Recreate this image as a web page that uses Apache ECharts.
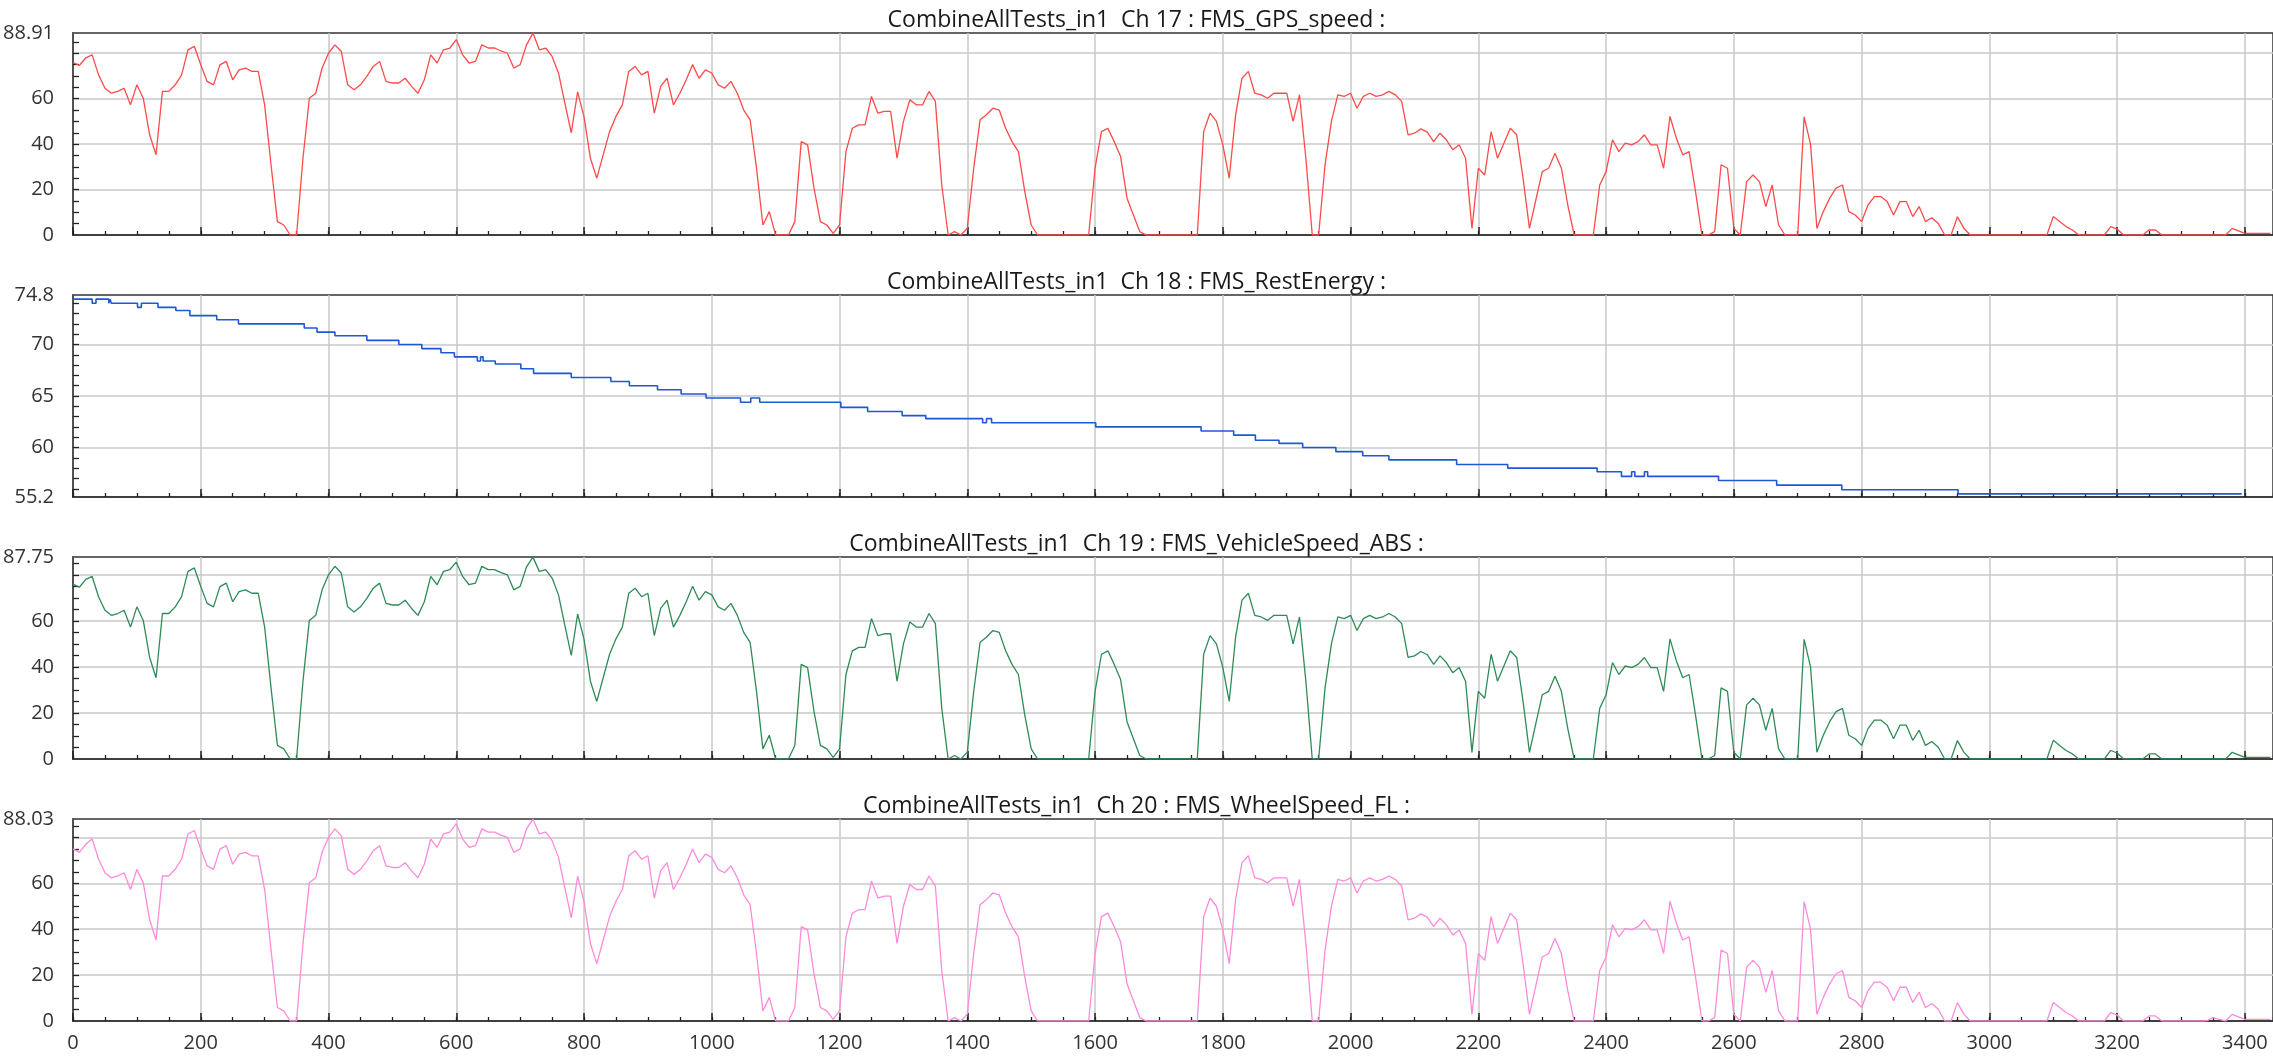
<!DOCTYPE html>
<html>
<head>
<meta charset="utf-8">
<title>CombineAllTests_in1</title>
<script src="https://cdn.jsdelivr.net/npm/echarts@6/dist/echarts.min.js"></script>
<style>
html, body { margin: 0; padding: 0; background: #fff; }
#chart { width: 2273px; height: 1059px; }
</style>
</head>
<body>
<div id="chart"></div>
<script>
const speedStep = 10;

// Ch 17 FMS_GPS_speed
const gpsSpeed = [
  76, 74.6, 78, 79.3, 70.5, 64.6, 62.4, 63.2, 64.6, 57.3,
  66.1, 60.2, 44.1, 35.3, 63.2, 63.2, 66.1, 70.5, 81.5, 83,
  74.9, 67.6, 66.1, 74.9, 76.4, 68.3, 72.7, 73.5, 72, 72,
  57.3, 30.9, 5.9, 4.4, 0, 0, 33.8, 60.2, 62.4, 73.5,
  80, 83.7, 80.8, 66.1, 63.9, 66.1, 69.8, 74.2, 76.4, 67.6,
  66.9, 66.9, 69, 65.4, 62.4, 68.3, 79.3, 75.7, 81.5, 82.3,
  86, 79.3, 75.7, 76.4, 83.7, 82.3, 82.3, 81, 80, 73.5,
  75, 83.7, 88.9, 81.5, 82.3, 78.6, 71.3, 58, 45, 63,
  52, 33.8, 25, 35.3, 45.5, 52.2, 57.3, 72, 74.2, 70.5,
  72, 53.6, 65.4, 69, 57.3, 62.4, 68.3, 75, 69, 72.7,
  71.3, 66.1, 64.6, 67.6, 62.4, 55, 50.7, 29.4, 4.4, 10.3,
  0, 0, 0, 5.9, 41.1, 39.7, 20.6, 5.9, 4.4, 0.7,
  4.4, 36.7, 47, 48.5, 48.5, 61, 53.6, 54.4, 54.4, 33.8,
  50, 59.5, 57.3, 57.3, 63.2, 58.8, 22, 0, 1.5, 0,
  3, 29.4, 50.7, 52.9, 55.8, 55, 47, 41.1, 36.7, 19.1,
  4.4, 0, 0, 0, 0, 0, 0, 0, 0, 0,
  29.4, 45.5, 47, 41.1, 34.5, 16.2, 8.8, 1.5, 0, 0,
  0, 0, 0, 0, 0, 0, 0, 45.5, 53.6, 50,
  39.7, 25, 52.9, 69, 72, 62.4, 61.7, 60.2, 62.4, 62.4,
  62.4, 50, 61.7, 33.8, 0, 0, 30.9, 50, 61.7, 61,
  62.4, 55.8, 61, 62.4, 61, 61.7, 63.2, 61.7, 58.8, 44.1,
  44.8, 46.7, 45.3, 41.1, 44.8, 41.9, 37.5, 39.7, 33.8, 2.9,
  29.4, 26.4, 45.5, 33.8, 40.4, 47, 44.1, 25, 2.9, 15.4,
  27.9, 29.4, 36, 29.4, 13.2, 0, 0, 0, 0, 22,
  27.9, 41.9, 36.7, 40.4, 39.7, 41.1, 44.1, 39.7, 39.7, 29.4,
  52.2, 42.6, 35.3, 36.7, 19.1, 0, 0, 1.5, 30.9, 29.4,
  2.9, 0, 23.5, 26.4, 23.5, 12.5, 22, 4.4, 0, 0,
  0, 52, 40, 2.9, 10.3, 16.2, 20.6, 22, 10.3, 8.8,
  5.9, 13.2, 16.9, 16.9, 14.7, 8.8, 14.7, 14.7, 8.1, 12.5,
  5.9, 7.6, 5.1, 0, 0, 8, 3, 0, 0, 0,
  0, 0, 0, 0, 0, 0, 0, 0, 0, 0,
  8.1, 5.9, 3.7, 2.2, 0, 0, 0, 0, 0, 3.7,
  2.6, 0, 0, 0, 0, 2.2, 2.2, 0, 0, 0,
  0, 0, 0, 0, 0, 0, 0, 0, 2.9, 1.8,
  0.7, 0.7, 0.7, 0.7, 0.7
];

// Ch 19 FMS_VehicleSpeed_ABS
const absSpeed = [
  76, 74.6, 78, 79.3, 70.5, 64.6, 62.4, 63.2, 64.6, 57.3,
  66.1, 60.2, 44.1, 35.3, 63.2, 63.2, 66.1, 70.5, 81.5, 83,
  74.9, 67.6, 66.1, 74.9, 76.4, 68.3, 72.7, 73.5, 72, 72,
  57.3, 30.9, 5.9, 4.4, 0, 0, 33.8, 60.2, 62.4, 73.5,
  80, 83.7, 80.8, 66.1, 63.9, 66.1, 69.8, 74.2, 76.4, 67.6,
  66.9, 66.9, 69, 65.4, 62.4, 68.3, 79.3, 75.7, 81.5, 82.3,
  85.5, 79.3, 75.7, 76.4, 83.7, 82.3, 82.3, 81, 80, 73.5,
  75, 83.5, 87.7, 81.5, 82.3, 78.6, 71.3, 58, 45, 63,
  52, 33.8, 25, 35.3, 45.5, 52.2, 57.3, 72, 74.2, 70.5,
  72, 53.6, 65.4, 69, 57.3, 62.4, 68.3, 75, 69, 72.7,
  71.3, 66.1, 64.6, 67.6, 62.4, 55, 50.7, 29.4, 4.4, 10.3,
  0, 0, 0, 5.9, 41.1, 39.7, 20.6, 5.9, 4.4, 0.7,
  4.4, 36.7, 47, 48.5, 48.5, 61, 53.6, 54.4, 54.4, 33.8,
  50, 59.5, 57.3, 57.3, 63.2, 58.8, 22, 0, 1.5, 0,
  3, 29.4, 50.7, 52.9, 55.8, 55, 47, 41.1, 36.7, 19.1,
  4.4, 0, 0, 0, 0, 0, 0, 0, 0, 0,
  29.4, 45.5, 47, 41.1, 34.5, 16.2, 8.8, 1.5, 0, 0,
  0, 0, 0, 0, 0, 0, 0, 45.5, 53.6, 50,
  39.7, 25, 52.9, 69, 72, 62.4, 61.7, 60.2, 62.4, 62.4,
  62.4, 50, 61.7, 33.8, 0, 0, 30.9, 50, 61.7, 61,
  62.4, 55.8, 61, 62.4, 61, 61.7, 63.2, 61.7, 58.8, 44.1,
  44.8, 46.7, 45.3, 41.1, 44.8, 41.9, 37.5, 39.7, 33.8, 2.9,
  29.4, 26.4, 45.5, 33.8, 40.4, 47, 44.1, 25, 2.9, 15.4,
  27.9, 29.4, 36, 29.4, 13.2, 0, 0, 0, 0, 22,
  27.9, 41.9, 36.7, 40.4, 39.7, 41.1, 44.1, 39.7, 39.7, 29.4,
  52.2, 42.6, 35.3, 36.7, 19.1, 0, 0, 1.5, 30.9, 29.4,
  2.9, 0, 23.5, 26.4, 23.5, 12.5, 22, 4.4, 0, 0,
  0, 52, 40, 2.9, 10.3, 16.2, 20.6, 22, 10.3, 8.8,
  5.9, 13.2, 16.9, 16.9, 14.7, 8.8, 14.7, 14.7, 8.1, 12.5,
  5.9, 7.6, 5.1, 0, 0, 8, 3, 0, 0, 0,
  0, 0, 0, 0, 0, 0, 0, 0, 0, 0,
  8.1, 5.9, 3.7, 2.2, 0, 0, 0, 0, 0, 3.7,
  2.6, 0, 0, 0, 0, 2.2, 2.2, 0, 0, 0,
  0, 0, 0, 0, 0, 0, 0, 0, 2.9, 1.8,
  0.7, 0.7, 0.7, 0.7, 0.7
];

// Ch 20 FMS_WheelSpeed_FL
const wheelSpeed = [
  75, 73.5, 77, 79.3, 70.5, 64.6, 62.4, 63.2, 64.6, 57.3,
  66.1, 60.2, 44.1, 35.3, 63.2, 63.2, 66.1, 70.5, 81.5, 83,
  74.9, 67.6, 66.1, 74.9, 76.4, 68.3, 72.7, 73.5, 72, 72,
  57.3, 30.9, 5.9, 4.4, 0, 0, 33.8, 60.2, 62.4, 73.5,
  80, 83.7, 80.8, 66.1, 63.9, 66.1, 69.8, 74.2, 76.4, 67.6,
  66.9, 66.9, 69, 65.4, 62.4, 68.3, 79.3, 75.7, 81.5, 82.3,
  86, 79.3, 75.7, 76.4, 83.7, 82.3, 82.3, 81, 80, 73.5,
  75, 83.7, 88, 81.5, 82.3, 78.6, 71.3, 58, 45, 63,
  52, 33.8, 25, 35.3, 45.5, 52.2, 57.3, 72, 74.2, 70.5,
  72, 53.6, 65.4, 69, 57.3, 62.4, 68.3, 75, 69, 72.7,
  71.3, 66.1, 64.6, 67.6, 62.4, 55, 50.7, 29.4, 4.4, 10.3,
  0, 0, 0, 5.9, 41.1, 39.7, 20.6, 5.9, 4.4, 0.7,
  4.4, 36.7, 47, 48.5, 48.5, 61, 53.6, 54.4, 54.4, 33.8,
  50, 59.5, 57.3, 57.3, 63.2, 58.8, 22, 0, 1.5, 0,
  3, 29.4, 50.7, 52.9, 55.8, 55, 47, 41.1, 36.7, 19.1,
  4.4, 0, 0, 0, 0, 0, 0, 0, 0, 0,
  29.4, 45.5, 47, 41.1, 34.5, 16.2, 8.8, 1.5, 0, 0,
  0, 0, 0, 0, 0, 0, 0, 45.5, 53.6, 50,
  39.7, 25, 52.9, 69, 72, 62.4, 61.7, 60.2, 62.4, 62.4,
  62.4, 50, 61.7, 33.8, 0, 0, 30.9, 50, 61.7, 61,
  62.4, 55.8, 61, 62.4, 61, 61.7, 63.2, 61.7, 58.8, 44.1,
  44.8, 46.7, 45.3, 41.1, 44.8, 41.9, 37.5, 39.7, 33.8, 2.9,
  29.4, 26.4, 45.5, 33.8, 40.4, 47, 44.1, 25, 2.9, 15.4,
  27.9, 29.4, 36, 29.4, 13.2, 0, 0, 0, 0, 22,
  27.9, 41.9, 36.7, 40.4, 39.7, 41.1, 44.1, 39.7, 39.7, 29.4,
  52.2, 42.6, 35.3, 36.7, 19.1, 0, 0, 1.5, 30.9, 29.4,
  2.9, 0, 23.5, 26.4, 23.5, 12.5, 22, 4.4, 0, 0,
  0, 52, 40, 2.9, 10.3, 16.2, 20.6, 22, 10.3, 8.8,
  5.9, 13.2, 16.9, 16.9, 14.7, 8.8, 14.7, 14.7, 8.1, 12.5,
  5.9, 7.6, 5.1, 0, 0, 8, 3, 0, 0, 0,
  0, 0, 0, 0, 0, 0, 0, 0, 0, 0,
  8.1, 5.9, 3.7, 2.2, 0, 0, 0, 0, 0, 3.7,
  2.6, 0, 0, 0, 0, 2.2, 2.2, 0, 0, 0,
  0, 0, 0, 0, 0, 1.5, 0.7, 0, 2.9, 1.8,
  0.7, 0.7, 0.7, 0.7, 0.7
];

// Ch 18 FMS_RestEnergy: step changes (time, value held from that time on)
const energyTime = [0, 30, 36, 56, 58, 60, 101, 107, 133, 161, 183, 225, 259, 362, 382, 410, 460, 510,
  546, 576, 597, 633, 638, 642, 661, 701, 721, 780, 842, 871, 915, 952, 991, 1045, 1061, 1075,
  1202, 1244, 1298, 1335, 1424, 1430, 1438, 1601, 1766, 1817, 1851, 1888, 1925, 1977, 2019,
  2060, 2166, 2246, 2386, 2424, 2440, 2445, 2460, 2465, 2576, 2667, 2769, 2951, 3395];
const energyValue = [74.4, 74.0, 74.4, 74.0, 74.4, 74.0, 73.6, 74.0, 73.6, 73.3, 72.8, 72.4, 72.0, 71.6, 71.2, 70.85, 70.4, 70.0,
  69.6, 69.2, 68.8, 68.4, 68.8, 68.4, 68.1, 67.65, 67.2, 66.8, 66.4, 66.0, 65.6, 65.2, 64.8, 64.4, 64.8, 64.4,
  63.9, 63.5, 63.1, 62.8, 62.4, 62.8, 62.4, 62.0, 61.6, 61.2, 60.7, 60.4, 60.0, 59.6, 59.2,
  58.8, 58.35, 58.0, 57.65, 57.2, 57.65, 57.2, 57.65, 57.2, 56.8, 56.35, 55.9, 55.5, 55.5];

// axis ticks
const xTicks = [0, 200, 400, 600, 800, 1000, 1200, 1400, 1600, 1800, 2000, 2200, 2400, 2600, 2800, 3000, 3200, 3400];
const gpsLabels = [0, 20, 40, 60, 88.91];
const energyLabels = [55.2, 60, 65, 70, 74.8];
const absLabels = [0, 20, 40, 60, 87.75];
const wheelLabels = [0, 20, 40, 60, 88.03];
const speedGrid = [20, 40, 60, 80];
const energyGrid = [60, 65, 70];
const speedMinor = [5, 10, 15, 25, 30, 35, 45, 50, 55, 65, 70, 75, 85];
const energyMinor = [56, 57, 58, 59, 61, 62, 63, 64, 66, 67, 68, 69, 71, 72, 73, 74];

const panels = [
  { title: 'CombineAllTests_in1  Ch 17 : FMS_GPS_speed :', values: gpsSpeed, color: '#ff4a4a',
    min: 0, max: 88.91, labels: gpsLabels, grid: speedGrid, minor: speedMinor, width: 1.3 },
  { title: 'CombineAllTests_in1  Ch 18 : FMS_RestEnergy :', color: '#1f58d4',
    min: 55.2, max: 74.8, labels: energyLabels, grid: energyGrid, minor: energyMinor, width: 1.6 },
  { title: 'CombineAllTests_in1  Ch 19 : FMS_VehicleSpeed_ABS :', values: absSpeed, color: '#2e8b57',
    min: 0, max: 87.75, labels: absLabels, grid: speedGrid, minor: speedMinor, width: 1.3 },
  { title: 'CombineAllTests_in1  Ch 20 : FMS_WheelSpeed_FL :', values: wheelSpeed, color: '#ff8adb',
    min: 0, max: 88.03, labels: wheelLabels, grid: speedGrid, minor: speedMinor, width: 1.3 }
];

const chart = echarts.init(document.getElementById('chart'));
const tops = [33, 295, 557, 819];
const plotH = 202;
const xMax = 3444;
const font = 'Open Sans';

let grids = [], titles = [], xAxes = [], yAxes = [], series = [];

panels.forEach((p, i) => {
  grids.push({
    left: 73, top: tops[i], width: 2205, height: plotH,
    show: true, borderColor: '#333', borderWidth: 1.5
  });
  titles.push({
    text: p.title, left: 'center', top: tops[i] - 24, padding: 0,
    textStyle: { fontFamily: font, fontSize: 23, fontWeight: 'normal', color: '#1a1a1a' }
  });
  xAxes.push({
    gridIndex: i, type: 'value', position: 'bottom', min: 0, max: xMax, interval: 200,
    axisLine: { show: true, onZero: false, lineStyle: { color: '#333', width: 1.5 } },
    axisTick: { show: true, inside: true, length: 8, customValues: xTicks, lineStyle: { color: '#222', width: 1.5 } },
    axisLabel: {
      show: i === 3, customValues: xTicks, margin: 12, fontSize: 20, fontFamily: font, color: '#333',
      formatter: (v) => String(v)
    },
    splitLine: { show: true, lineStyle: { color: '#c8c8c8', width: 1.5 } }
  });
  // minor ticks every 50
  xAxes.push({
    gridIndex: i, type: 'value', position: 'bottom', min: 0, max: xMax, interval: 50,
    axisLine: { show: false },
    axisTick: { show: true, inside: true, length: 4, lineStyle: { color: '#222', width: 1.3 } },
    axisLabel: { show: false },
    splitLine: { show: false }
  });
  yAxes.push({
    gridIndex: i, type: 'value', position: 'left', min: p.min, max: p.max, interval: p.min === 0 ? 20 : 5,
    axisLine: { show: true, onZero: false, lineStyle: { color: '#333', width: 1.5 } },
    axisTick: { show: true, inside: true, length: 6, customValues: p.grid, lineStyle: { color: '#222', width: 1.3 } },
    axisLabel: {
      show: true, customValues: p.labels, margin: 19, fontSize: 20, fontFamily: font, color: '#333',
      formatter: (v) => String(+(+v).toFixed(2))
    },
    splitLine: { show: true, lineStyle: { color: '#c8c8c8', width: 1.5 } }
  });
  yAxes.push({
    gridIndex: i, type: 'value', position: 'left', min: p.min, max: p.max,
    axisLine: { show: false },
    axisTick: { show: true, inside: true, length: 6, customValues: p.minor, lineStyle: { color: '#222', width: 1.3 } },
    axisLabel: { show: false },
    splitLine: { show: false }
  });

  let data;
  if (p.values) {
    data = p.values.map((v, k) => [k * speedStep, v]);
  } else {
    data = energyTime.map((t, k) => [t, energyValue[k]]);
  }
  series.push({
    type: 'line', xAxisIndex: 2 * i, yAxisIndex: 2 * i, data: data,
    step: p.values ? false : 'end',
    showSymbol: false, symbol: 'none', silent: true, clip: true,
    lineStyle: { color: p.color, width: p.width }
  });
});

chart.setOption({
  animation: false,
  backgroundColor: '#fff',
  title: titles,
  grid: grids,
  xAxis: xAxes,
  yAxis: yAxes,
  series: series
});
</script>
</body>
</html>
